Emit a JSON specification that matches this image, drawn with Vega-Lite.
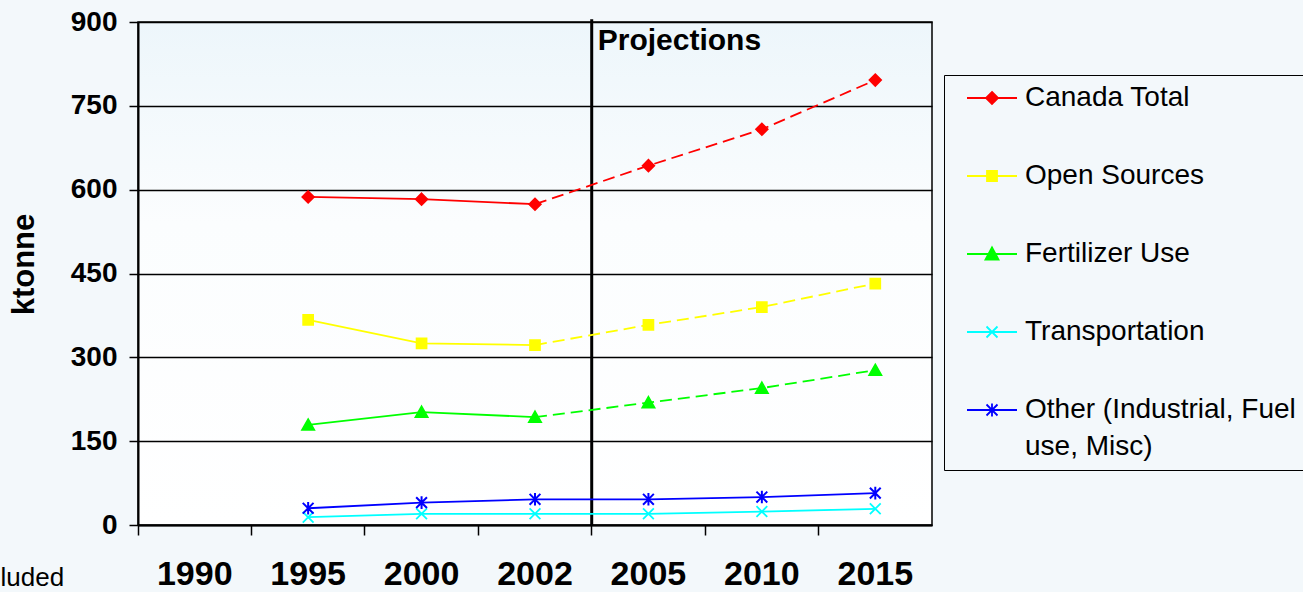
{
  "$schema": "https://vega.github.io/schema/vega-lite/v6.json",
  "width": 794,
  "height": 503,
  "autosize": {"type": "none"},
  "padding": {"left": 138, "top": 22, "right": 371, "bottom": 67},
  "background": "#f3f8fb",
  "config": {
    "font": "Liberation Sans",
    "view": {
      "stroke": "#000000",
      "strokeWidth": 1.5,
      "fill": {
        "gradient": "linear",
        "x1": 0, "y1": 0, "x2": 0, "y2": 1,
        "stops": [
          {"offset": 0, "color": "#edf6fb"},
          {"offset": 0.4, "color": "#fbfdfe"},
          {"offset": 1, "color": "#ffffff"}
        ]
      }
    },
    "axis": {"labelColor": "#000000", "titleColor": "#000000", "tickColor": "#000000", "domainColor": "#000000"}
  },
  "data": {
    "values": [
      {"series": "Canada Total", "year": "1995", "value": 587},
      {"series": "Canada Total", "year": "2000", "value": 583},
      {"series": "Canada Total", "year": "2002", "value": 574},
      {"series": "Canada Total", "year": "2005", "value": 643},
      {"series": "Canada Total", "year": "2010", "value": 708},
      {"series": "Canada Total", "year": "2015", "value": 796},
      {"series": "Open Sources", "year": "1995", "value": 367},
      {"series": "Open Sources", "year": "2000", "value": 325},
      {"series": "Open Sources", "year": "2002", "value": 322},
      {"series": "Open Sources", "year": "2005", "value": 358},
      {"series": "Open Sources", "year": "2010", "value": 390},
      {"series": "Open Sources", "year": "2015", "value": 432},
      {"series": "Fertilizer Use", "year": "1995", "value": 179},
      {"series": "Fertilizer Use", "year": "2000", "value": 202},
      {"series": "Fertilizer Use", "year": "2002", "value": 193},
      {"series": "Fertilizer Use", "year": "2005", "value": 219},
      {"series": "Fertilizer Use", "year": "2010", "value": 245},
      {"series": "Fertilizer Use", "year": "2015", "value": 277},
      {"series": "Transportation", "year": "1995", "value": 14},
      {"series": "Transportation", "year": "2000", "value": 20},
      {"series": "Transportation", "year": "2002", "value": 20},
      {"series": "Transportation", "year": "2005", "value": 20},
      {"series": "Transportation", "year": "2010", "value": 24},
      {"series": "Transportation", "year": "2015", "value": 29},
      {"series": "Other (Industrial, Fuel use, Misc)", "year": "1995", "value": 30},
      {"series": "Other (Industrial, Fuel use, Misc)", "year": "2000", "value": 40},
      {"series": "Other (Industrial, Fuel use, Misc)", "year": "2002", "value": 46},
      {"series": "Other (Industrial, Fuel use, Misc)", "year": "2005", "value": 46},
      {"series": "Other (Industrial, Fuel use, Misc)", "year": "2010", "value": 50},
      {"series": "Other (Industrial, Fuel use, Misc)", "year": "2015", "value": 57}
    ]
  },
  "encoding": {
    "x": {
      "field": "year",
      "type": "ordinal",
      "scale": {"domain": ["1990", "1995", "2000", "2002", "2005", "2010", "2015"], "paddingInner": 0, "paddingOuter": 0},
      "axis": {
        "title": "luded",
        "titleX": -138,
        "titleY": 60,
        "titleAlign": "left",
        "titleAnchor": "start",
        "titleBaseline": "alphabetic",
        "titleAngle": 0,
        "titleFontSize": 26,
        "titleFontWeight": "normal",
        "labelFontSize": 34,
        "labelFontWeight": "bold",
        "labelAngle": 0,
        "labelBaseline": "alphabetic",
        "labelPadding": 49,
        "tickSize": 10,
        "tickWidth": 1.5,
        "bandPosition": 0,
        "domainWidth": 2,
        "grid": false
      }
    },
    "y": {
      "field": "value",
      "type": "quantitative",
      "scale": {"domain": [0, 900], "nice": false},
      "axis": {
        "title": "ktonne",
        "titleX": -105,
        "titleY": 242,
        "titleAngle": 270,
        "titleAlign": "center",
        "titleBaseline": "alphabetic",
        "titleFontSize": 31,
        "titleFontWeight": "bold",
        "values": [0, 150, 300, 450, 600, 750, 900],
        "labelFontSize": 28,
        "labelFontWeight": "bold",
        "labelPadding": 12,
        "tickSize": 9,
        "tickWidth": 1.5,
        "domainWidth": 2,
        "grid": true,
        "gridColor": "#000000",
        "gridWidth": 1.3,
        "gridOpacity": 1
      }
    }
  },
  "layer": [
    {
      "transform": [{"filter": {"and": [{"field": "series", "equal": "Canada Total"}, {"field": "year", "equal": "2005"}]}}],
      "mark": {"type": "rule", "color": "#000000", "strokeWidth": 3},
      "encoding": {
        "x": {"field": "year", "type": "ordinal", "bandPosition": 0},
        "y": {"datum": 0},
        "y2": {"datum": 905}
      }
    },
    {
      "transform": [{"filter": {"and": [{"field": "series", "equal": "Canada Total"}, {"field": "year", "equal": "2005"}]}}],
      "mark": {"type": "text", "text": "Projections", "align": "left", "baseline": "alphabetic", "dx": 6, "dy": 28, "fontSize": 30, "fontWeight": "bold", "color": "#000000"},
      "encoding": {
        "x": {"field": "year", "type": "ordinal", "bandPosition": 0},
        "y": {"datum": 900}
      }
    },
    {
      "transform": [{"filter": {"or": [{"field": "year", "oneOf": ["1995", "2000", "2002"]}, {"field": "series", "oneOf": ["Transportation", "Other (Industrial, Fuel use, Misc)"]}]}}],
      "mark": {"type": "line", "strokeWidth": 1.8},
      "encoding": {
        "color": {
          "field": "series",
          "type": "nominal",
          "scale": {
            "domain": ["Canada Total", "Open Sources", "Fertilizer Use", "Transportation", "Other (Industrial, Fuel use, Misc)"],
            "range": ["#ff0000", "#ffff00", "#00ff00", "#00ffff", "#0000ff"]
          },
          "legend": {
            "title": null,
            "orient": "none",
            "legendX": 806,
            "legendY": 53,
            "padding": 9,
            "strokeColor": "#000000",
            "labelFontSize": 28,
            "labelFont": "Liberation Sans",
            "labelColor": "#000000",
            "labelLimit": 400,
            "labelOffset": 44,
            "symbolSize": 400,
            "rowPadding": 50,
            "labelExpr": "datum.label == 'Other (Industrial, Fuel use, Misc)' ? ['Other (Industrial, Fuel', 'use, Misc)'] : datum.label",
            "encode": {
              "symbols": {
                "update": {
                  "shape": {"signal": "datum.value === 'Canada Total' ? 'M0,0H5M2.5,-0.6L3.1,0L2.5,0.6L1.9,0Z' : datum.value === 'Open Sources' ? 'M0,0H5M2,-0.5H3V0.5H2Z' : datum.value === 'Fertilizer Use' ? 'M0,0H5M2.5,-0.65L3.15,0.55H1.85Z' : datum.value === 'Transportation' ? 'M0,0H5M1.95,-0.55L3.05,0.55M1.95,0.55L3.05,-0.55' : 'M0,0H5M1.95,-0.55L3.05,0.55M1.95,0.55L3.05,-0.55M2.5,-0.65V0.65'"},
                  "fill": {"scale": "color", "field": "value"},
                  "stroke": {"scale": "color", "field": "value"},
                  "strokeWidth": {"value": 1.8},
                  "size": {"value": 400},
                  "opacity": {"value": 1},
                  "fillOpacity": {"value": 1},
                  "strokeOpacity": {"value": 1},
                  "strokeDash": {"value": []}
                }
              },
              "labels": {
                "update": {
                  "lineHeight": {"value": 37}
                }
              }
            }
          }
        }
      }
    },
    {
      "transform": [{"filter": {"and": [{"field": "year", "oneOf": ["2002", "2005", "2010", "2015"]}, {"field": "series", "oneOf": ["Canada Total", "Open Sources", "Fertilizer Use"]}]}}],
      "mark": {"type": "line", "strokeWidth": 1.8, "strokeDash": [12, 6]},
      "encoding": {
        "color": {"field": "series", "type": "nominal", "legend": null}
      }
    },
    {
      "transform": [{"filter": {"field": "series", "equal": "Canada Total"}}],
      "mark": {"type": "point", "shape": "M0,-1L1,0L0,1L-1,0Z", "filled": true, "size": 144, "fill": "#ff0000", "stroke": "#ff0000", "strokeWidth": 1.5, "opacity": 1}
    },
    {
      "transform": [{"filter": {"field": "series", "equal": "Open Sources"}}],
      "mark": {"type": "point", "shape": "M-0.85,-0.85H0.85V0.85H-0.85Z", "filled": true, "size": 144, "fill": "#ffff00", "stroke": "#ffff00", "strokeWidth": 1.5, "opacity": 1}
    },
    {
      "transform": [{"filter": {"field": "series", "equal": "Fertilizer Use"}}],
      "mark": {"type": "point", "shape": "M0,-1L1.05,0.85H-1.05Z", "filled": true, "size": 144, "fill": "#00ff00", "stroke": "#00ff00", "strokeWidth": 1.5, "opacity": 1}
    },
    {
      "transform": [{"filter": {"field": "series", "equal": "Transportation"}}],
      "mark": {"type": "point", "shape": "M-0.9,-0.9L0.9,0.9M-0.9,0.9L0.9,-0.9", "filled": false, "size": 144, "stroke": "#00ffff", "strokeWidth": 1.8, "opacity": 1}
    },
    {
      "transform": [{"filter": {"field": "series", "equal": "Other (Industrial, Fuel use, Misc)"}}],
      "mark": {"type": "point", "shape": "M-0.9,-0.9L0.9,0.9M-0.9,0.9L0.9,-0.9M0,-1.05V1.05", "filled": false, "size": 144, "stroke": "#0000ff", "strokeWidth": 2, "opacity": 1}
    }
  ]
}
